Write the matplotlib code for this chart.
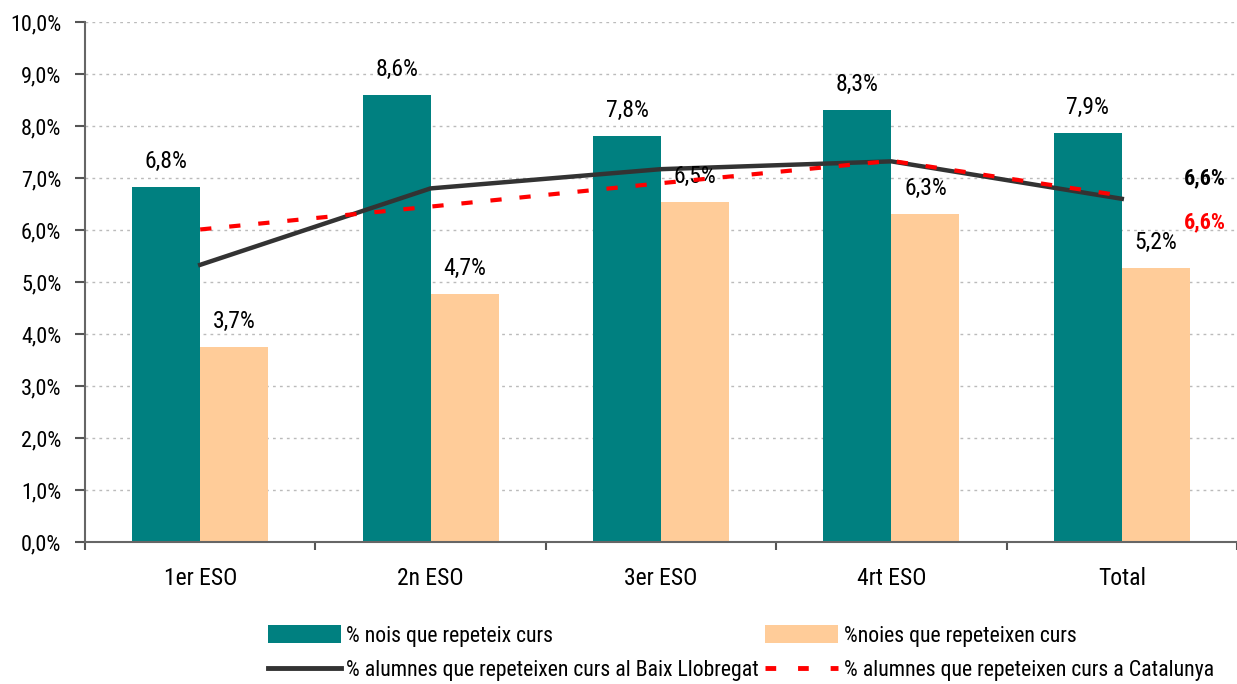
import matplotlib
matplotlib.use("Agg")
import matplotlib.pyplot as plt
from matplotlib.lines import Line2D
from matplotlib.patches import Patch
from matplotlib import font_manager
import os
import numpy as np

categories = ["1er ESO", "2n ESO", "3er ESO", "4rt ESO", "Total"]
nois = [6.83, 8.60, 7.80, 8.30, 7.87]
noies = [3.75, 4.76, 6.53, 6.30, 5.27]
nois_labels = ["6,8%", "8,6%", "7,8%", "8,3%", "7,9%"]
noies_labels = ["3,7%", "4,7%", "6,5%", "6,3%", "5,2%"]
baix_llobregat = [5.33, 6.80, 7.17, 7.32, 6.60]
catalunya = [6.01, 6.45, 6.90, 7.33, 6.66]
yticks = [0, 1, 2, 3, 4, 5, 6, 7, 8, 9, 10]
ytick_labels = ["0,0%", "1,0%", "2,0%", "3,0%", "4,0%", "5,0%", "6,0%", "7,0%", "8,0%", "9,0%", "10,0%"]
end_label_bl = "6,6%"
end_label_cat = "6,6%"

# look for a narrow / condensed font file
files = font_manager.findSystemFonts()
def pick(keys):
    for k in keys:
        for f in files:
            b = os.path.basename(f).lower()
            if b == k.lower():
                return f
    return None

reg_file = pick(["LiberationSansNarrow-Regular.ttf", "RobotoCondensed-Regular.ttf",
                 "DejaVuSansCondensed.ttf"])
bold_file = pick(["LiberationSansNarrow-Bold.ttf", "RobotoCondensed-Bold.ttf",
                  "DejaVuSansCondensed-Bold.ttf"])
SCALE = 1.0
if reg_file:
    fp = font_manager.FontProperties(fname=reg_file)
    if "DejaVu" in reg_file:
        SCALE = 0.92
else:
    fp = font_manager.FontProperties(family="Liberation Sans")
    SCALE = 0.88
if bold_file:
    fpb = font_manager.FontProperties(fname=bold_file)
else:
    fpb = font_manager.FontProperties(family=fp.get_family(), weight="bold")

def F(size, bold=False):
    p = (fpb if bold else fp).copy()
    p.set_size(size * SCALE)
    return p

TEAL = "#008080"
PEACH = "#FFCC99"
DARK = "#333333"
RED = "#FF0000"

fig = plt.figure(figsize=(12.37, 6.84), dpi=100)
ax = fig.add_axes([85/1237, 1 - 542/684, (1237 - 85)/1237, (542 - 22)/684])

x = np.arange(len(categories))
w = 0.295
ax.bar(x - w/2, nois, width=w, color=TEAL, zorder=2)
ax.bar(x + w/2, noies, width=w, color=PEACH, zorder=2)
ax.plot(x, baix_llobregat, color=DARK, lw=3.2, zorder=3)
ax.plot(x, catalunya, color=RED, lw=3, dashes=(2.7, 4.3), zorder=4)

for xi, v, s in zip(x, nois, nois_labels):
    ax.text(xi - w/2, v + 0.27, s, ha="center", va="bottom", fontproperties=F(17))
for xi, v, s in zip(x, noies, noies_labels):
    ax.text(xi + w/2, v + 0.27, s, ha="center", va="bottom", fontproperties=F(17))

ax.text(4.36, 7.0, end_label_bl, ha="center", va="center", fontproperties=F(16, True), color="black")
ax.text(4.36, 6.15, end_label_cat, ha="center", va="center", fontproperties=F(16, True), color=RED)

ax.set_xlim(-0.5, 4.5)
ax.set_ylim(0, 10)
ax.set_yticks(yticks)
ax.set_yticklabels(ytick_labels, fontproperties=F(16))
ax.set_xticks(x)
ax.set_xticklabels(categories, fontproperties=F(17))
ax.tick_params(axis="x", length=0, pad=18)
ax.set_xticks(np.arange(-0.5, 5.0, 1.0), minor=True)
ax.tick_params(axis="x", which="minor", length=6, width=1.5, color="#555555", direction="out")
ax.tick_params(axis="y", length=7, width=1.5, color="#555555", direction="out", pad=10)
for yv in yticks[1:]:
    ax.axhline(yv, color="#BBBBBB", lw=1, ls=(0, (2, 3)), zorder=1)
for s in ["top", "right"]:
    ax.spines[s].set_visible(False)
ax.spines["left"].set_color("#666666")
ax.spines["bottom"].set_color("#666666")
ax.spines["left"].set_linewidth(1.5)
ax.spines["bottom"].set_linewidth(1.5)

# legend, row by row
leg_font = F(15.7)
items_row1 = [(Patch(facecolor=TEAL, edgecolor="none"), "% nois que repeteix curs", 268),
              (Patch(facecolor=PEACH, edgecolor="none"), "%noies que repeteixen curs", 765)]
items_row2 = [(Line2D([0], [0], color=DARK, lw=3.5), "% alumnes que repeteixen curs al Baix Llobregat", 268),
              (Line2D([0], [0], color=RED, lw=3.5, dashes=(2.2, 4.5)), "% alumnes que repeteixen curs a Catalunya", 765)]
for row, ycen in ((items_row1, 636), (items_row2, 670)):
    for h, lab, xpx in row:
        fig.legend([h], [lab], loc="center left", bbox_to_anchor=(xpx/1237, 1 - ycen/684),
                   frameon=False, prop=leg_font, handlelength=3.35, handleheight=0.85,
                   handletextpad=0.25, borderaxespad=0, borderpad=0)

fig.savefig("out.png", dpi=100)
